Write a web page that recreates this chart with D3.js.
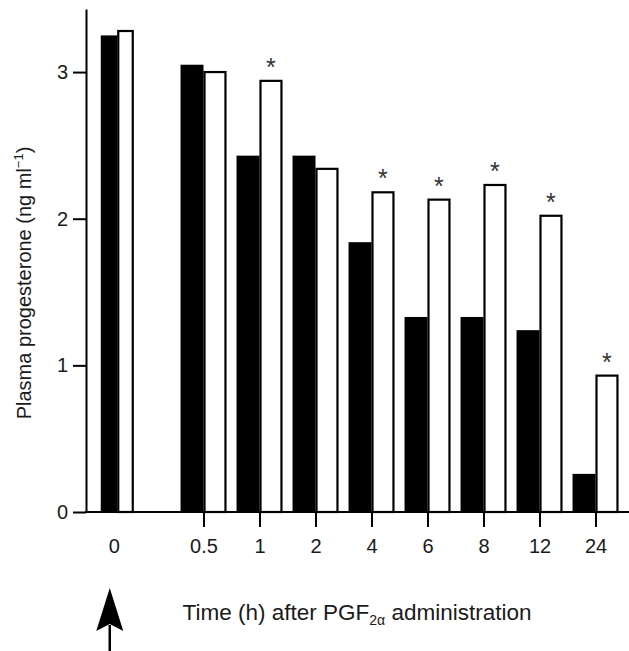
<!DOCTYPE html>
<html>
<head>
<meta charset="utf-8">
<script src="https://cdn.jsdelivr.net/npm/d3@7"></script>
<style>
  body { margin: 0; background: #fff; }
  text { font-family: "Liberation Sans", Arial, sans-serif; fill: #1a1a1a; }
</style>
</head>
<body>
<svg id="chart" width="629" height="651"></svg>
<script>
// data
const times = ["0", "0.5", "1", "2", "4", "6", "8", "12", "24"];
const blackVals = [3.25, 3.05, 2.43, 2.43, 1.84, 1.33, 1.33, 1.24, 0.26];
const whiteVals = [3.28, 3.00, 2.94, 2.34, 2.18, 2.13, 2.23, 2.02, 0.93];
const starred = [false, false, true, false, true, true, true, true, true];
const yTicks = [0, 1, 2, 3];

const w = 629, h = 651;
const svg = d3.select('#chart');
const font = '"Liberation Sans", Arial, sans-serif';

const y = d3.scaleLinear().domain([0, 3.43]).range([512, 9]);

// groups after time 0 are evenly spaced; time 0 sits a bit further left
const xp = d3.scalePoint().domain(times.slice(1)).range([203.5, 595.5]);
const step = xp.step();
const xPos = t => t === "0" ? xp("0.5") - 1.54 * step : xp(t);
const barW = t => t === "0" ? 16.5 : step * 0.41;

const data = times.map((t, i) => ({ t, b: blackVals[i], wv: whiteVals[i], star: starred[i] }));

// black bars (left of tick)
svg.selectAll('rect.black')
  .data(data)
  .enter()
  .append('rect')
  .attr('class', 'black')
  .attr('x', d => xPos(d.t) - barW(d.t))
  .attr('y', d => y(d.b))
  .attr('width', d => barW(d.t))
  .attr('height', d => y(0) - y(d.b))
  .attr('fill', '#000');

// white bars (right of tick)
svg.selectAll('rect.white')
  .data(data)
  .enter()
  .append('rect')
  .attr('class', 'white')
  .attr('x', d => xPos(d.t) + 1)
  .attr('y', d => y(d.wv))
  .attr('width', d => barW(d.t) - 2)
  .attr('height', d => y(0) - y(d.wv))
  .attr('fill', '#fff')
  .attr('stroke', '#000')
  .attr('stroke-width', 2.2);

// asterisks
svg.selectAll('text.star')
  .data(data.filter(d => d.star))
  .enter()
  .append('text')
  .attr('class', 'star')
  .attr('x', d => xPos(d.t) + barW(d.t) / 2)
  .attr('y', d => y(d.wv) - 5)
  .attr('text-anchor', 'middle')
  .style('font-size', '25px')
  .style('fill', '#333')
  .text('*');

// y axis
const yAxis = svg.append('g')
  .attr('transform', 'translate(86,0)')
  .call(d3.axisLeft(y).tickValues(yTicks).tickFormat(d3.format('d'))
    .tickSize(13).tickSizeOuter(0).tickPadding(5));
yAxis.select('.domain').attr('stroke', '#000').attr('stroke-width', 2);
yAxis.selectAll('.tick line').attr('stroke', '#000').attr('stroke-width', 2);
yAxis.selectAll('.tick text').style('font-size', '20px').attr('fill', '#1a1a1a')
  .style('font-family', font);

// x axis baseline
svg.append('line')
  .attr('x1', 85).attr('x2', w)
  .attr('y1', y(0)).attr('y2', y(0))
  .attr('stroke', '#000').attr('stroke-width', 2);

const xAxis = svg.append('g')
  .attr('transform', `translate(0,${y(0)})`)
  .call(d3.axisBottom(xp).tickSize(15).tickSizeOuter(0).tickPadding(12));
xAxis.select('.domain').remove();
xAxis.selectAll('.tick line').attr('stroke', '#000').attr('stroke-width', 2);
xAxis.selectAll('.tick text').style('font-size', '20px').attr('fill', '#1a1a1a')
  .style('font-family', font);

// "0" label has no tick
svg.append('text')
  .attr('x', xPos("0") - 3)
  .attr('y', y(0) + 27)
  .attr('dy', '0.71em')
  .attr('text-anchor', 'middle')
  .style('font-size', '20px')
  .text('0');

// axis titles
svg.append('text')
  .attr('transform', 'translate(31,283) rotate(-90)')
  .attr('text-anchor', 'middle')
  .style('font-size', '20px')
  .html('Plasma progesterone (ng ml<tspan dy="-8" font-size="13">−1</tspan><tspan dy="8">)</tspan>');

svg.append('text')
  .attr('x', 357)
  .attr('y', 620)
  .attr('text-anchor', 'middle')
  .style('font-size', '22.5px')
  .html('Time (h) after PGF<tspan dy="5" font-size="14">2α</tspan><tspan dy="-5"> administration</tspan>');

// arrow marking the PGF2α injection
const ax = xPos("0") - 7.5;
svg.append('line')
  .attr('x1', ax).attr('x2', ax)
  .attr('y1', 625).attr('y2', h)
  .attr('stroke', '#000').attr('stroke-width', 2.5);
svg.append('path')
  .attr('d', `M${ax},588 L${ax + 13.5},631 L${ax},624 L${ax - 13.5},631 Z`)
  .attr('fill', '#000');
</script>
</body>
</html>
